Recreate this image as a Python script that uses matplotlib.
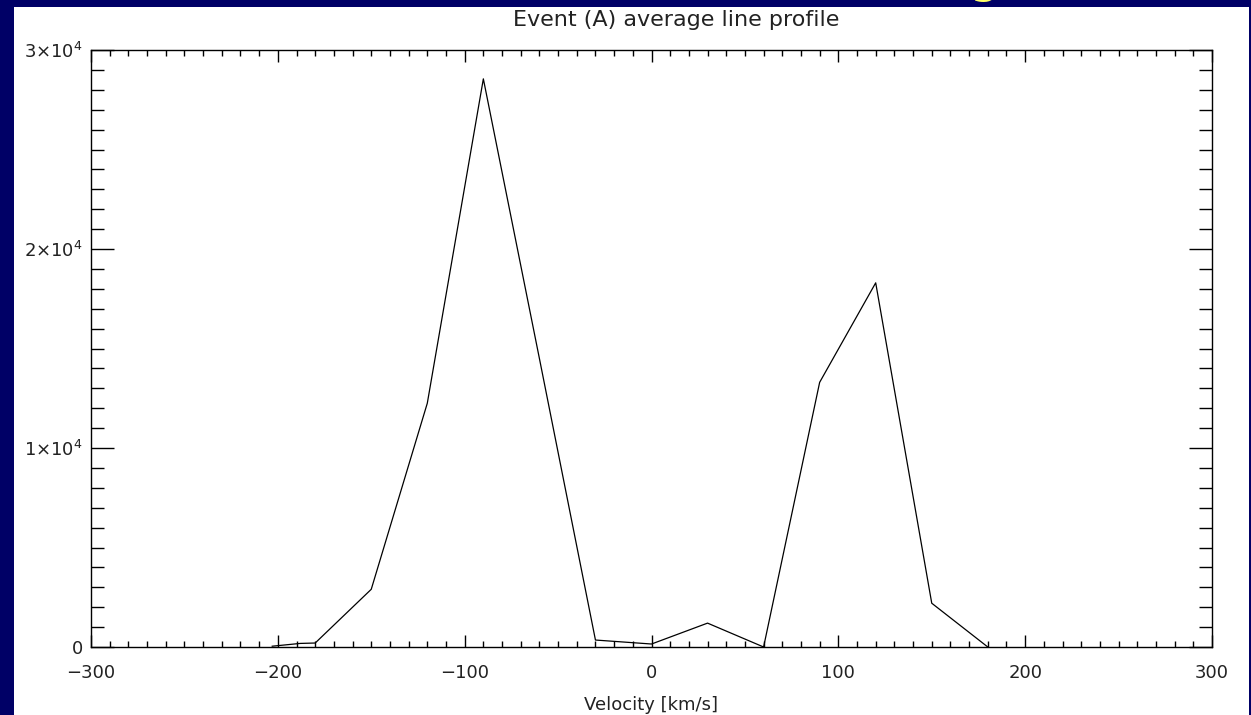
import matplotlib.pyplot as plt
from matplotlib.patches import Rectangle
from matplotlib.ticker import MultipleLocator, FuncFormatter

# Perfil de linea promedio, evento A
velocity = [-203, -188, -180, -150, -120, -90, -60, -30, 0, 30, 60, 90, 120, 150, 180]
intensity = [40, 180, 200, 2900, 12250, 28550, 14500, 350, 150, 1200, 0, 13300, 18300, 2200, 0]

x_ticks = [-300, -200, -100, 0, 100, 200, 300]
y_ticks = [0, 10000, 20000, 30000]

plt.rcParams['mathtext.fontset'] = 'dejavusans'
txt = '#222222'

W, H = 1251, 715
fig = plt.figure(figsize=(W / 100, H / 100), dpi=100)
fig.patch.set_facecolor('#000066')

# resto de la letra amarilla del titulo de la diapositiva
fig.text(984 / W, 1 + 8 / H, 'g', color='#ffff66', fontsize=36,
         ha='center', va='baseline', zorder=0)

# panel blanco
fig.patches.append(Rectangle((14 / W, 0), (1249 - 14) / W, (715 - 7) / H,
                             transform=fig.transFigure, facecolor='white',
                             edgecolor='none', zorder=1))

ax = fig.add_axes([91 / W, (H - 647) / H, (1212 - 91) / W, (647 - 50) / H])
ax.set_zorder(3)
ax.set_facecolor('none')
ax.plot(velocity, intensity, color='black', linewidth=0.9)

ax.set_xlim(-300, 300)
ax.set_ylim(0, 30000)
ax.set_xticks(x_ticks)
ax.set_yticks(y_ticks)
ax.xaxis.set_minor_locator(MultipleLocator(10))
ax.yaxis.set_minor_locator(MultipleLocator(1000))


def fmt_x(v, pos):
    v = int(round(v))
    return ('\u2212%d' % -v) if v < 0 else '%d' % v


def fmt_y(v, pos):
    if v == 0:
        return '0'
    return r'$%d{\times}10^4$' % int(round(v / 10000))


ax.xaxis.set_major_formatter(FuncFormatter(fmt_x))
ax.yaxis.set_major_formatter(FuncFormatter(fmt_y))

ax.tick_params(axis='x', which='both', direction='in', top=True, bottom=True,
               width=1, color='black', labelsize=13, pad=12, labelcolor=txt)
ax.tick_params(axis='x', which='major', length=8.6)
ax.tick_params(axis='x', which='minor', length=4.3)
ax.tick_params(axis='y', which='both', direction='in', left=True, right=True,
               width=1, color='black', labelsize=13, pad=6, labelcolor=txt)
ax.tick_params(axis='y', which='major', length=16.5)
ax.tick_params(axis='y', which='minor', length=9.4)
for s in ax.spines.values():
    s.set_linewidth(1)
    s.set_color('black')

ax.set_xlabel('Velocity [km/s]', fontsize=13, labelpad=10, color=txt)
fig.text(676 / W, 1 - 20 / H, 'Event (A) average line profile', fontsize=16,
         ha='center', va='center', color=txt, zorder=5)

fig.savefig('out.png', dpi=100, facecolor=fig.get_facecolor())
